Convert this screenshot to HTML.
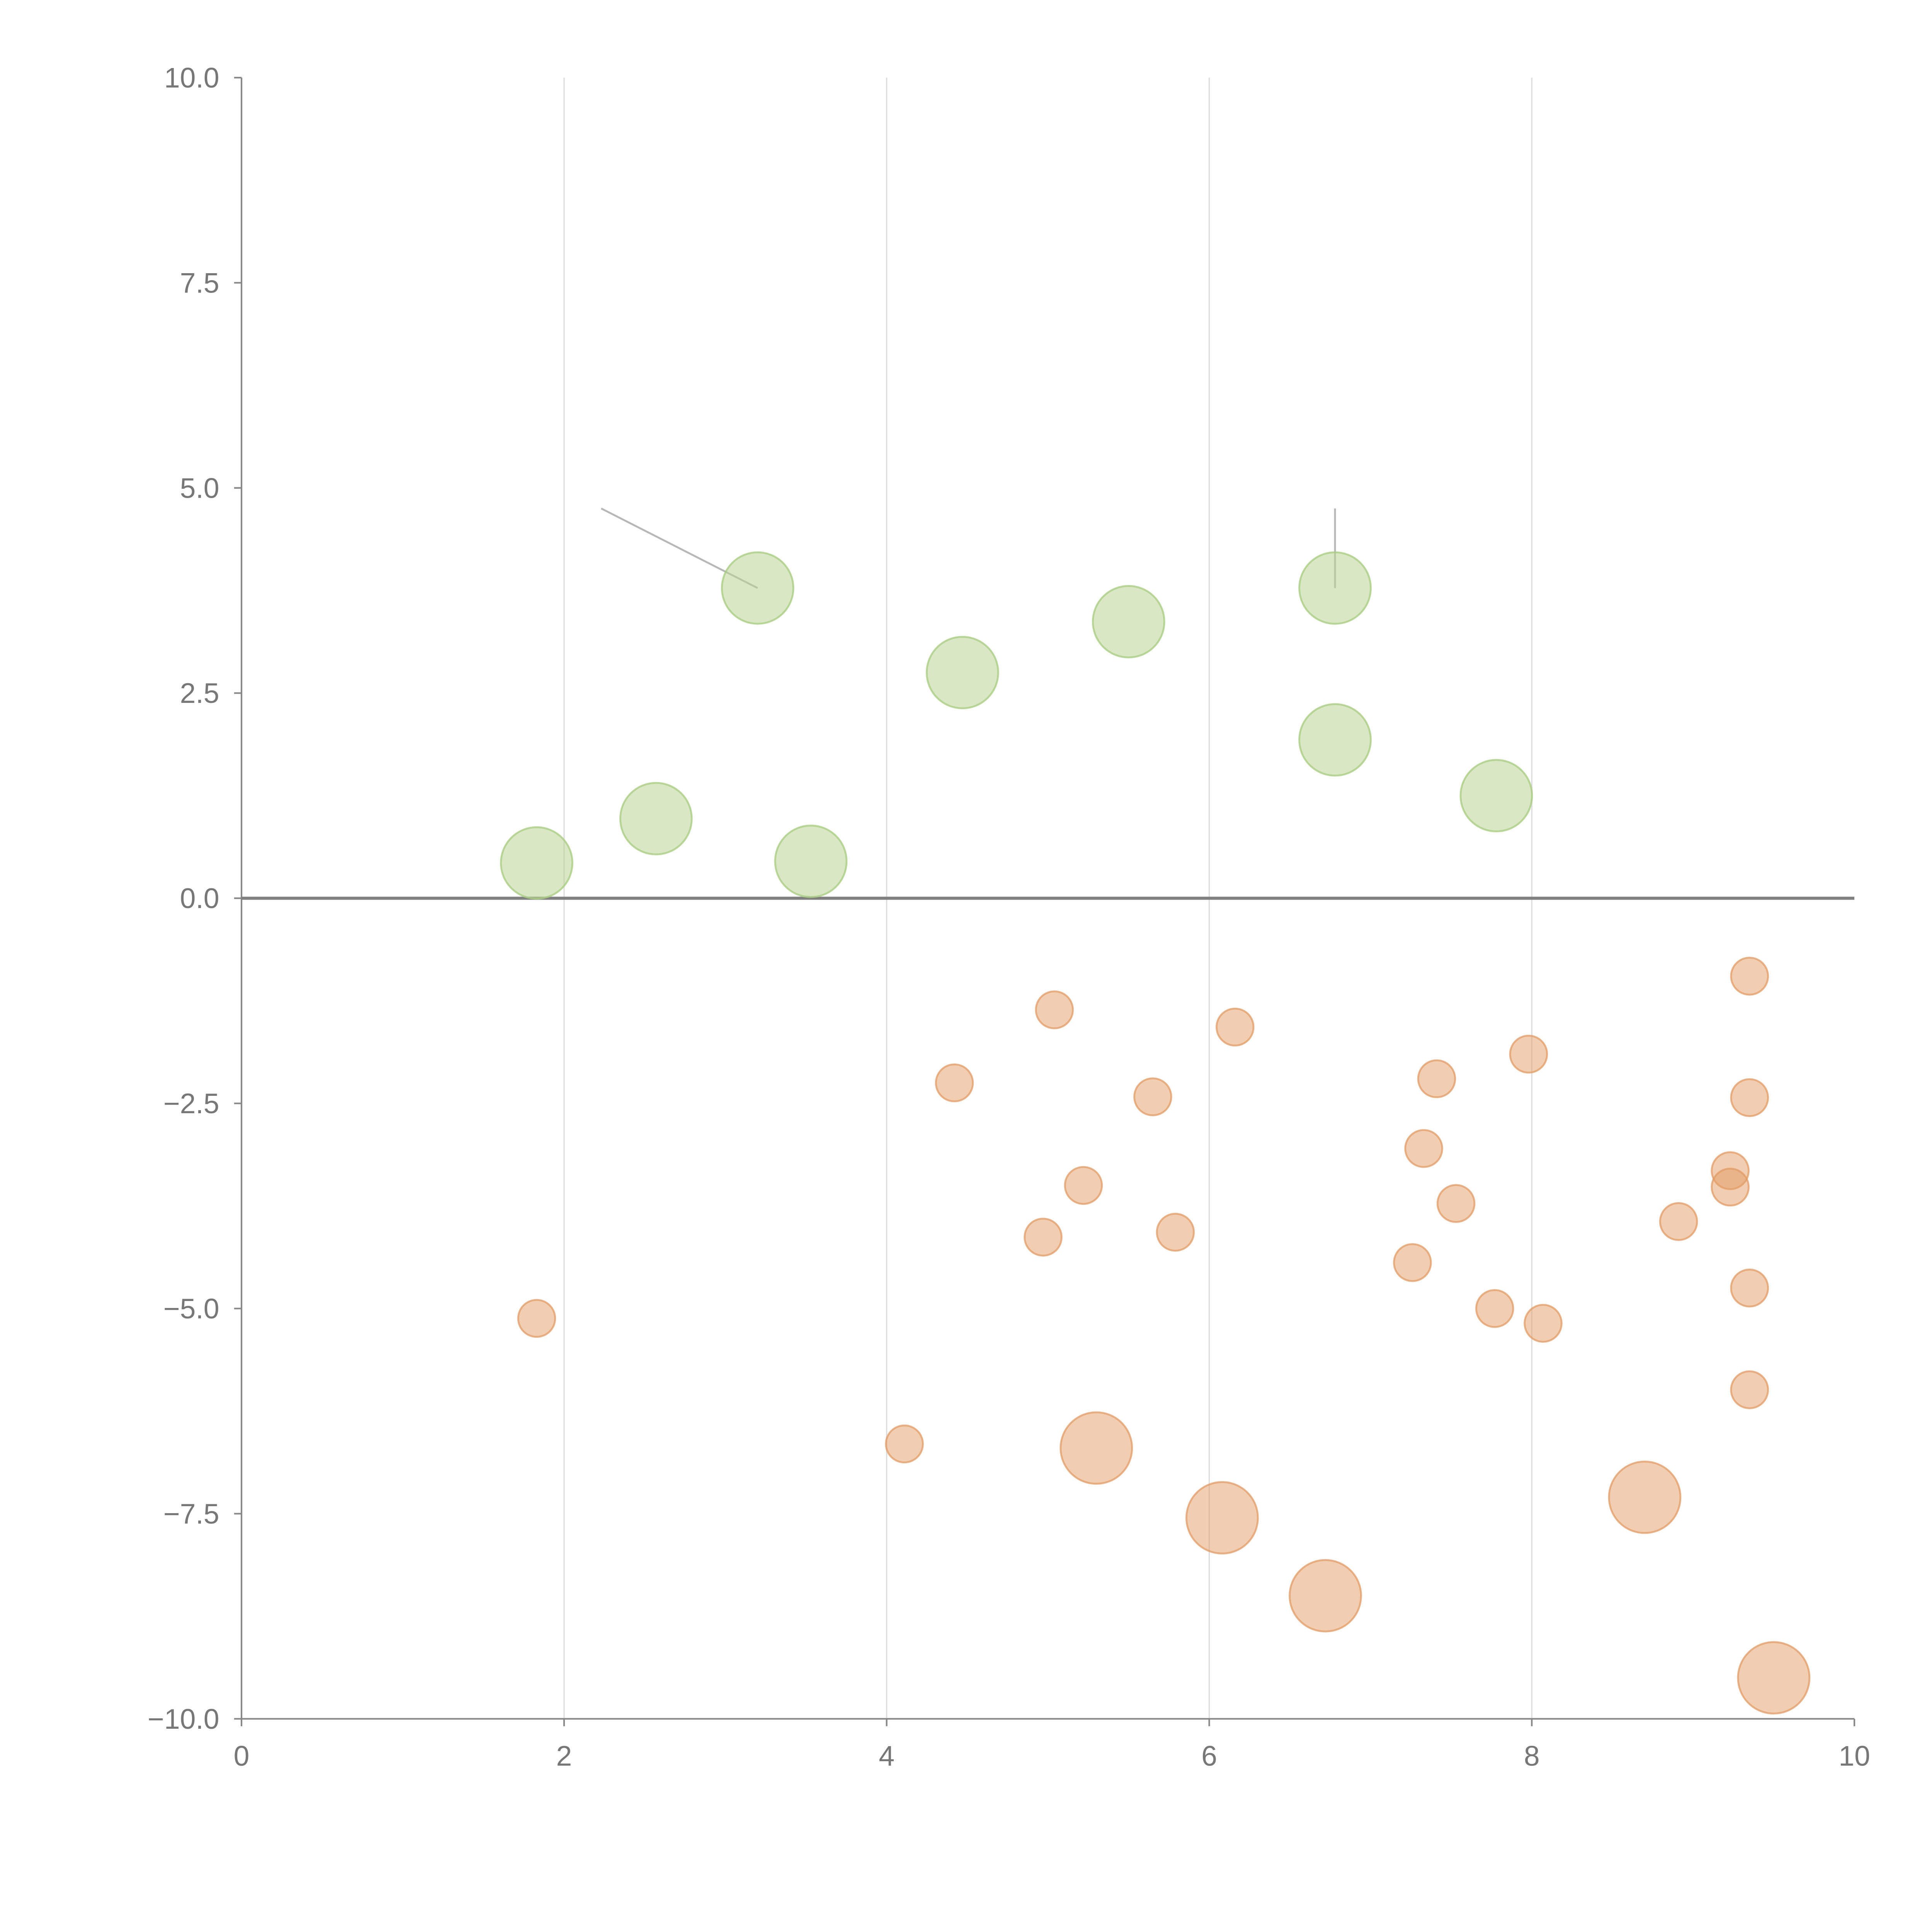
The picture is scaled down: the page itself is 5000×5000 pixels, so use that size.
<!DOCTYPE html>
<html><head><meta charset="utf-8"><style>
html,body{margin:0;padding:0;background:#fff;}
svg{display:block;}
text{font-family:"Liberation Sans",sans-serif;fill:#777;font-size:23px;}
</style></head><body>
<svg id="chart" width="5000" height="5000" viewBox="0 0 1568 1568" xmlns="http://www.w3.org/2000/svg"></svg>
<script>
const xTicks = [0, 2, 4, 6, 8, 10];
const yTicks = [-10, -7.5, -5, -2.5, 0, 2.5, 5, 7.5, 10];
const yTickLabels = ["\u221210.0","\u22127.5","\u22125.0","\u22122.5","0.0","2.5","5.0","7.5","10.0"];
const greenX = [1.83, 2.57, 3.2, 3.53, 4.47, 5.5, 6.78, 6.78, 7.78];
const greenY = [0.43, 0.97, 3.78, 0.45, 2.75, 3.37, 3.78, 1.93, 1.25];
const greenSize = [29, 29, 29, 29, 29, 29, 29, 29, 29];
const orangeX = [1.83, 4.11, 4.42, 5.04, 4.97, 5.22, 5.65, 5.79, 6.16, 7.26, 7.33, 7.41, 7.53, 7.77, 7.98, 8.07, 8.91, 9.23, 9.23, 9.35, 9.35, 9.35, 9.35, 5.3, 6.08, 6.72, 8.7, 9.5];
const orangeY = [-5.12, -6.65, -2.25, -1.36, -4.13, -3.5, -2.42, -4.07, -1.57, -4.44, -3.05, -2.2, -3.72, -5.0, -1.9, -5.18, -3.94, -3.32, -3.52, -0.95, -2.43, -4.75, -5.99, -6.7, -7.55, -8.5, -7.3, -9.5];
const orangeSize = [15,15,15,15,15,15,15,15,15,15,15,15,15,15,15,15,15,15,15,15,15,15,15,29,29,29,29,29];
const annotFrom = [[3.2, 3.78], [6.78, 3.78]];
const annotTo = [[2.23, 4.75], [6.78, 4.75]];

const NS = "http://www.w3.org/2000/svg";
const svg = document.getElementById('chart');
const X0 = 196, X1 = 1505, Y0 = 1395, Y1 = 63;
const sx = v => X0 + (v - 0) / 10 * (X1 - X0);
const sy = v => Y0 - (v + 10) / 20 * (Y0 - Y1);
function mk(tag, attrs) { const e = document.createElementNS(NS, tag); for (const k in attrs) e.setAttribute(k, attrs[k]); svg.appendChild(e); return e; }

xTicks.forEach(t => {
  if (t === 0 || t === 10) return;
  const g = mk('line', {x1: sx(t), x2: sx(t), y1: Y1, y2: Y0, stroke: '#dcdcdc', 'stroke-width': 1});
  
  
});
const ya = mk('line', {x1: X0, x2: X0, y1: Y1, y2: Y0, stroke: '#888', 'stroke-width': 1.3});


const xa = mk('line', {x1: X0, x2: X1, y1: Y0, y2: Y0, stroke: '#888', 'stroke-width': 1.3});


const zl = mk('line', {x1: X0, x2: X1, y1: sy(0), y2: sy(0), stroke: '#808080', 'stroke-width': 2.5});



xTicks.forEach(t => {
  const tk = mk('line', {x1: sx(t), x2: sx(t), y1: Y0, y2: Y0 + 6, stroke: '#888', 'stroke-width': 1.3});
  
  
  const lb = mk('text', {x: sx(t), y: Y0 + 38, 'text-anchor': 'middle'});
  lb.textContent = String(t);
  
  
});
yTicks.forEach((t, i) => {
  const tk = mk('line', {x1: X0 - 6, x2: X0, y1: sy(t), y2: sy(t), stroke: '#888', 'stroke-width': 1.3});
  
  
  const lb = mk('text', {x: X0 - 18, y: sy(t) + 8, 'text-anchor': 'end'});
  lb.textContent = yTickLabels[i];
  
  
});

annotFrom.forEach((f, i) => {
  const l = mk('line', {x1: sx(f[0]), y1: sy(f[1]), x2: sx(annotTo[i][0]), y2: sy(annotTo[i][1]), stroke: '#999', 'stroke-width': 1.5, 'stroke-opacity': 0.7});
  
  
});

greenX.forEach((x, i) => {
  const c = mk('circle', {cx: sx(x), cy: sy(greenY[i]), r: greenSize[i], fill: 'rgba(185,212,150,0.55)', stroke: 'rgba(170,205,130,0.8)', 'stroke-width': 1.5});
  
  
});
orangeX.forEach((x, i) => {
  const c = mk('circle', {cx: sx(x), cy: sy(orangeY[i]), r: orangeSize[i], fill: 'rgba(228,155,100,0.5)', stroke: 'rgba(225,155,100,0.75)', 'stroke-width': 1.5});
  
  
});
</script>
</body></html>
